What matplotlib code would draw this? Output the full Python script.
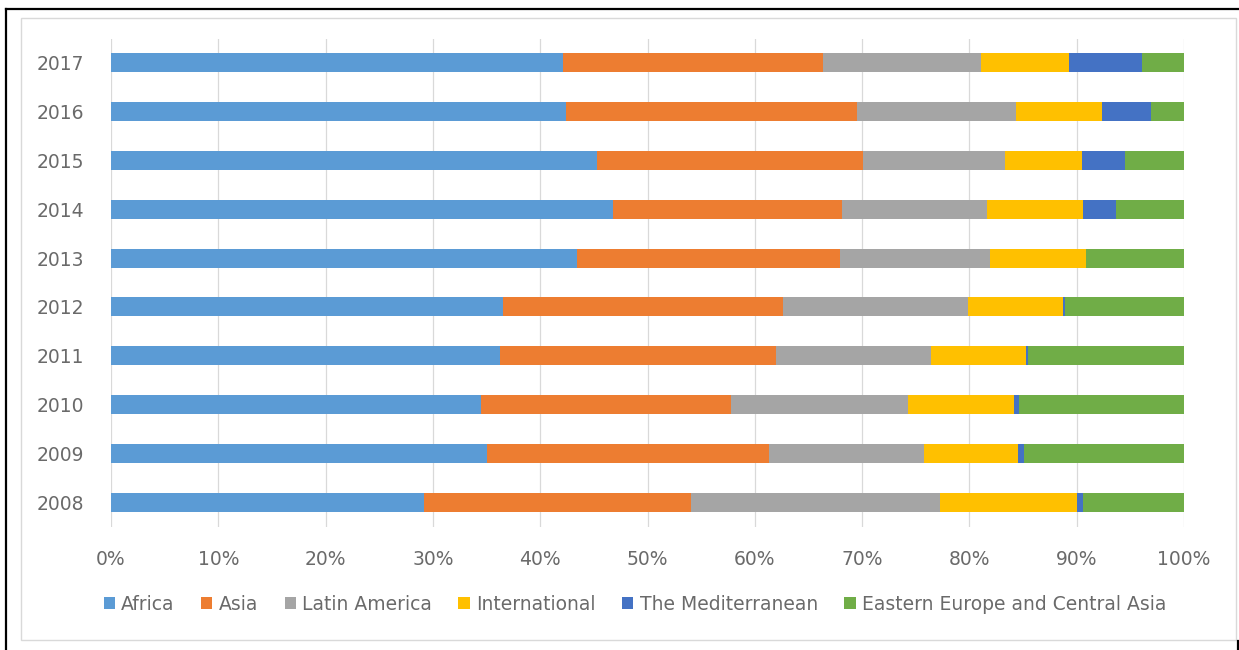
import matplotlib
matplotlib.use("Agg")
import matplotlib.pyplot as plt
from matplotlib.patches import Rectangle
from matplotlib.lines import Line2D
from matplotlib.ticker import PercentFormatter

years = ["2008", "2009", "2010", "2011", "2012", "2013", "2014", "2015", "2016", "2017"]
regions = ["Africa", "Asia", "Latin America", "International",
           "The Mediterranean", "Eastern Europe and Central Asia"]

africa        = [29.2, 35.0, 34.5, 36.3, 36.5, 43.4, 46.8, 45.3, 42.4, 42.1]
asia          = [24.9, 26.3, 23.3, 25.7, 26.1, 24.5, 21.3, 24.8, 27.1, 24.3]
latin_america = [23.2, 14.5, 16.5, 14.4, 17.3, 14.0, 13.5, 13.2, 14.8, 14.7]
international = [12.7,  8.7,  9.9,  8.9,  8.8,  9.0,  9.0,  7.2,  8.1,  8.2]
mediterranean = [ 0.6,  0.6,  0.4,  0.2,  0.2,  0.0,  3.1,  4.0,  4.5,  6.8]
eastern_europe = [9.4, 14.9, 15.4, 14.5, 11.1,  9.1,  6.3,  5.5,  3.1,  3.9]

series = [africa, asia, latin_america, international, mediterranean, eastern_europe]
colors = ["#5B9BD5", "#ED7D31", "#A5A5A5", "#FFC000", "#4472C4", "#70AD47"]

W, H = 1239, 650
fig = plt.figure(figsize=(W / 100, H / 100), dpi=100)
fig.patch.set_facecolor("white")

# outer frame pieces and chart border
fig.add_artist(Line2D([6 / W, 1.0], [1 - 9 / H, 1 - 9 / H], color="black", lw=1.6))
fig.add_artist(Line2D([6 / W, 6 / W], [0, 1 - 9 / H], color="black", lw=1.6))
fig.add_artist(Line2D([1238 / W, 1238 / W], [0, 1 - 641 / H], color="black", lw=1.6))
fig.add_artist(Rectangle((21 / W, 1 - 640 / H), (1236 - 21) / W, (640 - 18) / H,
                         transform=fig.transFigure, fill=False,
                         edgecolor="#d9d9d9", lw=1.0))

ax = fig.add_axes([111 / W, 1 - 526.5 / H, (1184 - 111) / W, (526.5 - 38.5) / H])

# normalise each year to 100%
totals = [sum(vals) for vals in zip(*series)]
ypos = list(range(len(years)))
left = [0.0] * len(years)
for name, vals, col in zip(regions, series, colors):
    share = [v / t * 100 for v, t in zip(vals, totals)]
    ax.barh(ypos, share, left=left, height=0.39, color=col, label=name, zorder=3)
    left = [l + s for l, s in zip(left, share)]

ax.set_xlim(0, 100)
ax.set_ylim(-0.5, len(years) - 0.5)
ax.set_xticks(range(0, 101, 10))
ax.xaxis.set_major_formatter(PercentFormatter(decimals=0))
ax.set_yticks(ypos)
ax.set_yticklabels(years)
ax.grid(axis="x", color="#d9d9d9", lw=0.9, zorder=0)
ax.set_axisbelow(True)
for s in ax.spines.values():
    s.set_visible(False)

txt = "#6a6a6a"
ax.tick_params(axis="both", length=0, labelsize=13.5, colors=txt)
ax.tick_params(axis="y", pad=19)
ax.tick_params(axis="x", pad=17)

handles, labels = ax.get_legend_handles_labels()
leg = fig.legend(handles, labels, loc="center", ncol=6,
                 bbox_to_anchor=(635 / W, 1 - 604 / H),
                 frameon=False, fontsize=13.5, labelcolor=txt,
                 handlelength=0.6, handleheight=0.6, handletextpad=0.35,
                 columnspacing=1.4)

fig.savefig("out.png", dpi=100, facecolor="white")
